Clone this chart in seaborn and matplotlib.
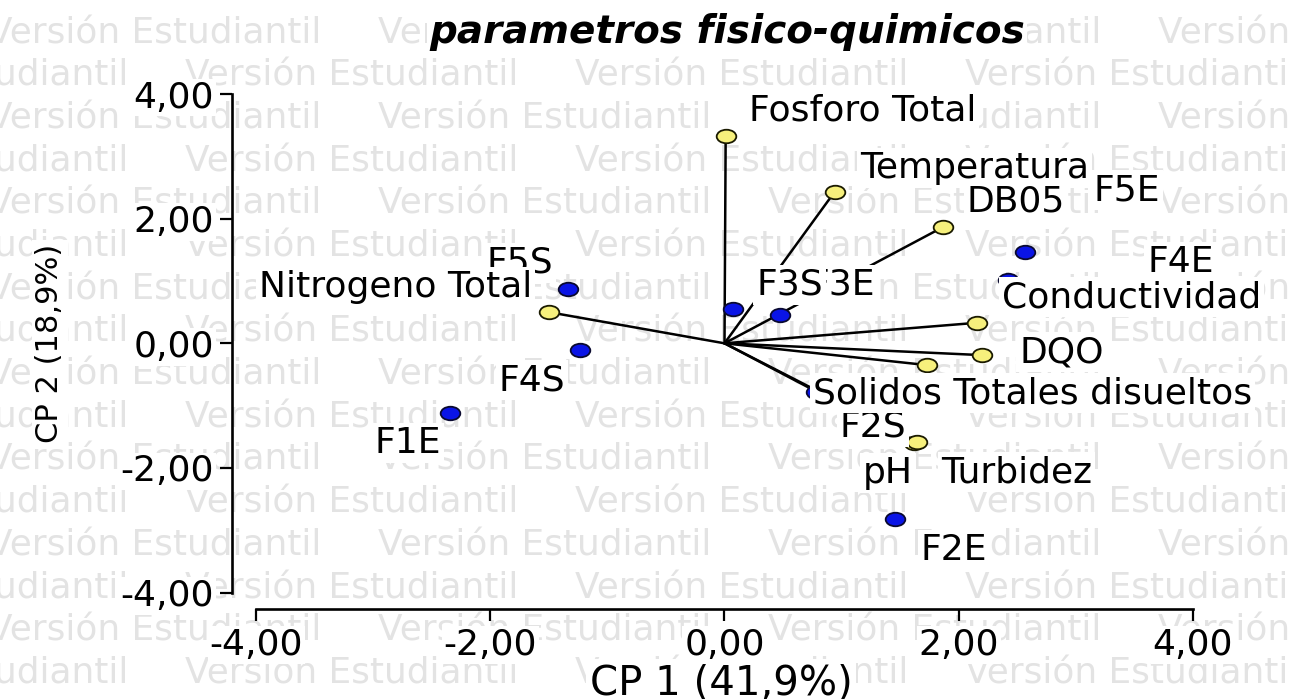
import numpy as np
import pandas as pd
import matplotlib
matplotlib.use("Agg")
import matplotlib.pyplot as plt
from matplotlib.markers import MarkerStyle
from matplotlib.transforms import Affine2D
import seaborn as sns

# ---------------- data ----------------
variables = ['Fosforo Total', 'Temperatura', 'DB05', 'Conductividad', 'DQO',
             'Solidos Totales disueltos', 'Nitrogeno Total', 'pH', 'Turbidez']
var_x = [0.01, 0.94, 1.87, 2.16, 2.20, 1.73, -1.50, 1.62, 1.64]
var_y = [3.33, 2.43, 1.87, 0.33, -0.19, -0.35, 0.50, -1.60, -1.58]

cases = ['F1E', 'F2E', 'F3E', 'F4E', 'F5E', 'F2S', 'F3S', 'F4S', 'F5S']
case_x = [-2.34, 1.46, 0.47, 2.42, 2.57, 0.78, 0.07, -1.23, -1.34]
case_y = [-1.12, -2.82, 0.45, 1.02, 1.47, -0.78, 0.55, -0.11, 0.87]

tick_values = [-4, -2, 0, 2, 4]
tick_labels = ['-4,00', '-2,00', '0,00', '2,00', '4,00']

title = 'parametros fisico-quimicos'
xlabel = 'CP 1 (41,9%)'
ylabel = 'CP 2 (18,9%)'
watermark = 'Versión Estudiantil'

# label anchor positions (left edge, vertical centre) in data units
label_pos = {
    'F1E': (-2.99, -1.60), 'F2E': (1.675, -3.32), 'F3E': (0.72, 0.94),
    'F4E': (3.61, 1.30), 'F5E': (3.15, 2.46), 'F2S': (0.986, -1.34),
    'F3S': (0.27, 0.94), 'F4S': (-1.93, -0.59), 'F5S': (-2.03, 1.29),
    'Fosforo Total': (0.21, 3.74), 'Temperatura': (1.157, 2.81),
    'DB05': (2.07, 2.27), 'Conductividad': (2.37, 0.74), 'DQO': (2.515, -0.14),
    'Solidos Totales disueltos': (0.753, -0.80),
    'Nitrogeno Total': (-3.975, 0.90), 'pH': (1.18, -2.08),
    'Turbidez': (1.85, -2.07),
}

# ---------------- figure ----------------
sns.set_style("white")
plt.rcParams['font.family'] = ['DejaVu Sans']
plt.rcParams['text.color'] = 'black'

W, H = 1289, 699
fig = plt.figure(figsize=(W / 100, H / 100), dpi=100)
ax = fig.add_axes([0, 0, 1, 1])
ax.patch.set_alpha(0)

# pixel mapping of the reference
x0px, xunit = 724.5, 117.1
y0px, yunit = 343.3, 62.3
ax.set_xlim((0 - x0px) / xunit, (W - x0px) / xunit)
ax.set_ylim((y0px - H) / yunit, (y0px - 0) / yunit)

# watermark
wm_color = '#e3e3e3'
for i in range(16):
    py = 33 + 42.7 * i
    start = -12 if i % 2 == 0 else -205
    for k in range(4):
        px = start + 390 * k
        ax.text(px / W, 1 - py / H, watermark, transform=ax.transAxes,
                fontsize=25.8, color=wm_color, ha='left', va='center',
                zorder=0.5, clip_on=False)

# vectors from origin to variables
rows = []
for name, x, y in zip(variables, var_x, var_y):
    rows.append({'var': name, 'x': 0.0, 'y': 0.0})
    rows.append({'var': name, 'x': x, 'y': y})
vec = pd.DataFrame(rows)
sns.lineplot(data=vec, x='x', y='y', units='var', estimator=None, sort=False,
             color='black', linewidth=1.8, ax=ax, zorder=2, legend=False)

ell = MarkerStyle('o', transform=Affine2D().scale(1.45, 1.0))
sns.scatterplot(x=var_x, y=var_y, ax=ax, color='#f6f07c', marker=ell, s=95,
                edgecolor='#1a1a00', linewidth=1.3, zorder=3)
sns.scatterplot(x=case_x, y=case_y, ax=ax, color='#0a14e6', marker=ell, s=95,
                edgecolor='#0a0a30', linewidth=1.3, zorder=3)

box = dict(boxstyle='square,pad=0.08', facecolor='white', edgecolor='none')
for name in cases + variables:
    lx, ly = label_pos[name]
    ax.text(lx, ly, name, fontsize=26, ha='left', va='center', color='black',
            bbox=box, zorder=4)

# axes styling
for s in ['top', 'right']:
    ax.spines[s].set_visible(False)
ax.spines['left'].set_position(('data', (232.5 - x0px) / xunit))
ax.spines['bottom'].set_position(('data', (y0px - 609) / yunit))
ax.spines['left'].set_bounds(-4, 4)
ax.spines['bottom'].set_bounds(-4, 4)
for s in ['left', 'bottom']:
    ax.spines[s].set_linewidth(1.9)
    ax.spines[s].set_color('black')
    ax.spines[s].set_zorder(2.5)

ax.set_xticks(tick_values, tick_labels)
ax.set_yticks(tick_values, tick_labels)
ax.tick_params(axis='both', direction='out', length=8.5, width=1.6,
               color='black', labelsize=26, pad=5, labelcolor='black')
ax.xaxis.set_ticks_position('bottom')
ax.yaxis.set_ticks_position('left')
for t in ax.xaxis.get_major_ticks() + ax.yaxis.get_major_ticks():
    t.label1.set_bbox(dict(boxstyle='square,pad=0.05', facecolor='white',
                           edgecolor='none'))

ax.set_xlabel(xlabel, fontsize=29, color='black')
ax.set_ylabel(ylabel, fontsize=22, color='black')
ax.xaxis.label.set_va('center')
ax.yaxis.label.set_va('center')
ax.xaxis.set_label_coords(721 / W, 1 - 683 / H)
ax.yaxis.set_label_coords(50 / W, 1 - 343 / H)
ax.xaxis.label.set_bbox(dict(boxstyle='square,pad=0.1', facecolor='white', edgecolor='none'))
ax.yaxis.label.set_bbox(dict(boxstyle='square,pad=0.1', facecolor='white', edgecolor='none'))

ax.text(727 / W, 1 - 32 / H, title, transform=ax.transAxes, fontsize=28,
        fontweight='bold', fontstyle='italic', ha='center', va='center',
        color='black',
        bbox=dict(boxstyle='square,pad=0.05', facecolor='white', edgecolor='none'),
        zorder=4)

fig.savefig('out.png', dpi=100, facecolor='white')
